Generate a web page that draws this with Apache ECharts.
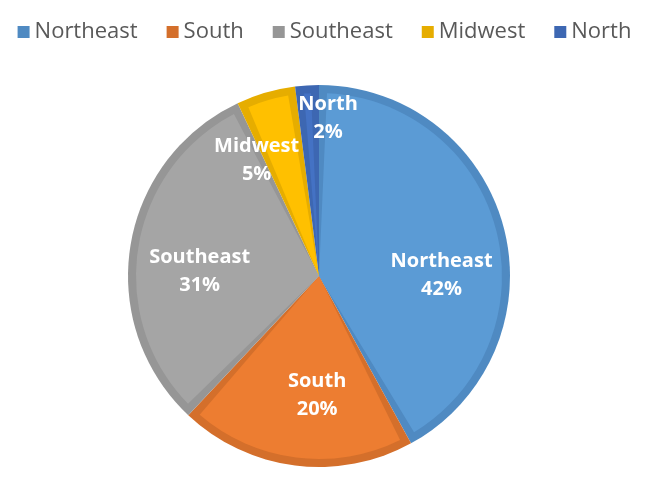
<!DOCTYPE html>
<html>
<head>
<meta charset="utf-8">
<script src="https://cdn.jsdelivr.net/npm/echarts@6/dist/echarts.min.js"></script>
<style>
  html, body { margin: 0; padding: 0; background: #fff; }
  #chart { width: 649px; height: 482px; }
</style>
</head>
<body>
<div id="chart"></div>
<script>
const regions = ['Northeast', 'South', 'Southeast', 'Midwest', 'North']
const shares = [42, 20, 31, 5, 2]
const fillColors = ['#5B9BD5', '#ED7D31', '#A5A5A5', '#FFC000', '#4472C4']
const edgeColors = ['#4F8AC2', '#D46F2B', '#969696', '#E6AD00', '#3D67B2']
// label nudges (px) to mimic Excel "best fit" placement
const labelNudge = [[31, 23], [10, 26], [-26, 10], [-36, -25], [15, -63]]

const font = 'Open Sans'
const center = [319, 276]

const chart = echarts.init(document.getElementById('chart'))

chart.setOption({
  animation: false,
  legend: {
    data: regions,
    top: 16,
    left: 'center',
    icon: 'rect',
    itemWidth: 12,
    itemHeight: 12,
    itemGap: 29,
    textStyle: { fontFamily: font, fontSize: 22, color: '#595959' }
  },
  series: [
    {
      // darker rim underneath
      type: 'pie',
      center: center,
      radius: 191,
      startAngle: 90,
      clockwise: true,
      silent: true,
      label: { show: false },
      labelLine: { show: false },
      data: regions.map((name, i) => ({
        name, value: shares[i], itemStyle: { color: edgeColors[i], borderWidth: 0 }
      }))
    },
    {
      type: 'pie',
      center: center,
      radius: 183,
      startAngle: 90,
      clockwise: true,
      padAngle: 5,
      label: {
        show: true,
        position: 'inside',
        formatter: '{b}\n{d}%',
        color: '#fff',
        fontFamily: font,
        fontWeight: 'bold',
        fontSize: 20,
        lineHeight: 28
      },
      labelLine: { show: false },
      labelLayout: params => ({
        dx: labelNudge[params.dataIndex][0],
        dy: labelNudge[params.dataIndex][1]
      }),
      data: regions.map((name, i) => ({
        name, value: shares[i], itemStyle: { color: fillColors[i], borderWidth: 0 }
      }))
    }
  ]
})
</script>
</body>
</html>
